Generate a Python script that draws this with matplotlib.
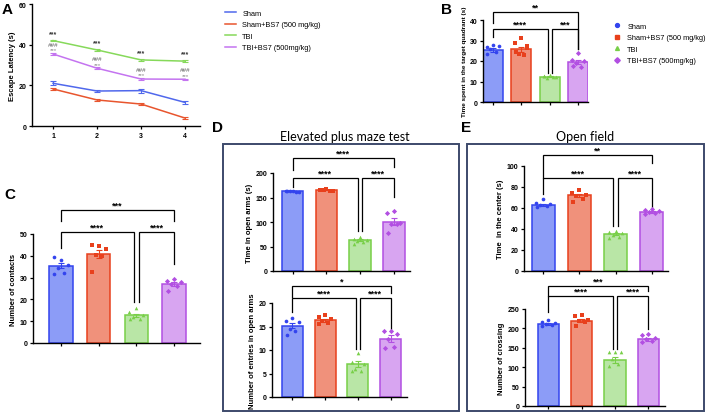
import matplotlib
matplotlib.use("Agg")
import matplotlib.pyplot as plt
import numpy as np
from matplotlib.patches import Rectangle
from matplotlib.lines import Line2D

plt.rcParams["font.family"] = ["Liberation Sans", "DejaVu Sans"]

W, H = 708, 414

groups = ["Sham", "Sham+BS7 (500 mg/kg)", "TBI", "TBI+BS7 (500mg/kg)"]
edge_cols = ["#3344ee", "#e8401c", "#78cf48", "#b24fe2"]
fill_cols = ["#8c9cf7", "#f0917b", "#b9e6a6", "#d8a5f1"]
line_cols = ["#5068ec", "#e8552e", "#86d95a", "#c474f0"]
markers = ["o", "s", "^", "D"]

# panel A: escape latency per day
days = [1, 2, 3, 4]
lat_sham = [21.0, 17.2, 17.4, 11.6]
lat_sham_err = [1.0, 0.6, 1.0, 0.7]
lat_shambs7 = [18.2, 12.8, 10.8, 3.9]
lat_shambs7_err = [0.4, 0.4, 0.4, 0.3]
lat_tbi = [42.0, 37.4, 32.5, 31.9]
lat_tbi_err = [0.4, 0.4, 0.4, 0.4]
lat_tbibs7 = [35.4, 28.4, 23.1, 23.0]
lat_tbibs7_err = [0.4, 0.4, 0.4, 0.3]

# panel B: time in target quadrant
b_pts = [[28, 26.8, 27.2, 25.8, 24.2, 23.2],
         [31, 28.8, 26.2, 23.2, 23.0, 24.5, 27.5],
         [13.2, 12.6, 12.1, 11.6, 12.0, 12.8],
         [24.0, 20.6, 20.2, 19.0, 17.2, 17.5]]
b_mean = [25.3, 25.8, 12.3, 19.5]
b_sem = [0.8, 1.2, 0.3, 1.0]

# panel C: number of contacts
c_pts = [[38.0, 39.5, 36.0, 34.2, 32.0, 31.5],
         [44.5, 45.0, 43.0, 40.2, 40.0, 32.5],
         [16.0, 14.0, 13.0, 12.0, 11.0, 11.2],
         [29.5, 28.5, 28.0, 27.0, 26.2, 24.0]]
c_mean = [35.4, 40.7, 12.7, 27.1]
c_sem = [1.2, 1.9, 0.8, 0.8]

# panel D: elevated plus maze
d1_pts = [[164, 163, 162, 163, 162, 164],
          [167, 165, 164, 166, 163, 165],
          [70, 65, 63, 62, 60, 55],
          [122, 118, 97, 96, 95, 78]]
d1_mean = [163, 165, 63, 101]
d1_sem = [0.5, 0.6, 2.0, 6.5]
d2_pts = [[16.8, 16.2, 16.0, 14.5, 14.0, 13.1],
          [17.4, 17.0, 16.7, 16.1, 15.7, 15.5],
          [9.4, 7.4, 7.1, 6.0, 5.5, 5.5],
          [14.1, 14.0, 13.5, 12.4, 10.6, 10.5]]
d2_mean = [15.2, 16.3, 7.0, 12.4]
d2_sem = [0.6, 0.3, 0.6, 0.7]

# panel E: open field
e1_pts = [[68.4, 64.6, 63.6, 62.7, 62.0, 61.0],
          [77.2, 74.0, 72.5, 71.5, 68.4, 65.8],
          [38.3, 37.3, 36.0, 34.2, 32.6, 31.6],
          [59.5, 58.2, 57.3, 56.3, 55.7, 54.1]]
e1_mean = [63.0, 72.0, 35.0, 56.0]
e1_sem = [1.1, 1.6, 1.0, 0.8]
e2_pts = [[222, 217, 214, 211, 209, 207],
          [235, 233, 222, 220, 216, 207],
          [140, 139, 138, 121, 108, 103],
          [185, 184, 176, 172, 168, 164]]
e2_mean = [211, 220, 119, 172]
e2_sem = [2.2, 4.5, 7.0, 3.5]

# horizontal spread of the dots, as a fraction of bar width
SPREAD = [0.0, -0.6, 0.6, -0.25, 0.3, -0.55, 0.55]


def px_axes(fig, l, t, r, b):
    return fig.add_axes([l / W, 1 - b / H, (r - l) / W, (b - t) / H])


def style_axes(ax, ylabel, yticks, lsize=5.5):
    for s in ["top", "right"]:
        ax.spines[s].set_visible(False)
    for s in ["left", "bottom"]:
        ax.spines[s].set_linewidth(1.0)
    ax.set_yticks(yticks)
    ax.tick_params(axis="both", length=2.5, width=0.9, pad=1.5, labelsize=5)
    for lab in ax.get_yticklabels():
        lab.set_fontweight("bold")
    ax.set_ylabel(ylabel, fontsize=lsize, fontweight="bold", labelpad=2)


def bracket(ax, x1, x2, y, y1, y2, text):
    ax.plot([x1, x1, x2, x2], [y1, y, y, y2], color="black", lw=0.9,
            clip_on=False, solid_joinstyle="miter")
    ax.annotate(text, ((x1 + x2) / 2, y), xytext=(0, 0.3), textcoords="offset points",
                ha="center", va="bottom", fontsize=6.5, fontweight="bold",
                annotation_clip=False)


def bar_panel(ax, pts, means, sems, ylim, yticks, ylabel, xlim, brackets,
              width=0.64, lsize=5.5):
    x = np.arange(4)
    ax.bar(x, means, width=width, color=fill_cols, edgecolor=edge_cols, linewidth=1.1, zorder=2)
    for i in range(4):
        n = len(pts[i])
        jit = np.array(SPREAD[:n]) * width * 0.5
        ax.errorbar(x[i], means[i], yerr=sems[i], color=edge_cols[i], capsize=2.2,
                    elinewidth=0.8, capthick=0.8, zorder=3)
        ax.scatter(x[i] + jit, pts[i], s=7, marker=markers[i], color=edge_cols[i],
                   linewidths=0, zorder=4, clip_on=False)
    ax.set_xlim(*xlim)
    ax.set_ylim(*ylim)
    ax.set_xticks(x)
    ax.set_xticklabels([])
    style_axes(ax, ylabel, yticks, lsize)
    g = 0.07
    for text, a, b, y, ya, yb in brackets:
        xa = a + (g if a == 2 else 0)
        xb = b - (g if b == 2 else 0)
        bracket(ax, xa, xb, y, ya, yb, text)


fig = plt.figure(figsize=(W / 100, H / 100), dpi=100)

# ---- A
axA = px_axes(fig, 32, 5, 200, 127)
series = [(lat_sham, lat_sham_err), (lat_shambs7, lat_shambs7_err),
          (lat_tbi, lat_tbi_err), (lat_tbibs7, lat_tbibs7_err)]
for (vals, err), col, name in zip(series, line_cols, groups):
    axA.errorbar(days, vals, yerr=err, color=col, lw=1.1, capsize=2, elinewidth=0.8,
                 capthick=0.8, label=name)
for d, v in zip(days, lat_tbi):
    axA.annotate("***", (d, v), xytext=(0, 2.5), textcoords="offset points",
                 ha="center", va="bottom", fontsize=5, fontweight="bold", color="#333333")
for d, v in zip(days, lat_tbibs7):
    axA.annotate("***", (d, v), xytext=(0, 1.2), textcoords="offset points",
                 ha="center", va="bottom", fontsize=4.5, color="#888888")
    axA.annotate("###", (d, v), xytext=(0, 5.2), textcoords="offset points",
                 ha="center", va="bottom", fontsize=4.5, color="#555555", style="italic")
axA.set_xlim(0.52, 4.34)
axA.set_ylim(0, 60)
axA.set_xticks(days)
style_axes(axA, "Escape Latency (s)", [0, 20, 40, 60])
for lab in axA.get_xticklabels():
    lab.set_fontweight("bold")
handles = [Line2D([], [], color=c, lw=1.1) for c in line_cols]
fig.legend(handles, groups, loc="upper left", bbox_to_anchor=(218 / W, 1 - 4 / H),
           frameon=False, fontsize=5.3, handlelength=1.6, labelspacing=0.6, handletextpad=0.8)

# ---- B
axB = px_axes(fig, 483, 21, 588, 103)
bar_panel(axB, b_pts, b_mean, b_sem, (0, 40), [0, 10, 20, 30, 40],
          "Time spent in the target quadrant (s)", (-0.35, 3.35),
          [("****", 0, 2, 35.8, 31.5, 14.0), ("***", 2, 3, 35.8, 14.0, 26.0),
           ("**", 0, 3, 43.9, 38.4, 26.0)], width=0.7, lsize=4.6)
hB = [Line2D([], [], ls="", marker=m, color=c, ms=2.8) for m, c in zip(markers, edge_cols)]
fig.legend(hB, groups, loc="upper left", bbox_to_anchor=(606 / W, 1 - 17 / H),
           frameon=False, fontsize=5.3, handlelength=1.2, labelspacing=0.6, handletextpad=0.8)

# ---- C
axC = px_axes(fig, 33, 235, 200, 344)
bar_panel(axC, c_pts, c_mean, c_sem, (0, 50), [0, 10, 20, 30, 40, 50],
          "Number of contacts", (-0.74, 3.69),
          [("****", 0, 2, 50.8, 43.5, 19.0), ("****", 2, 3, 50.8, 19.0, 36.3),
           ("***", 0, 3, 61.0, 56.0, 56.0)], width=0.62)

# ---- D
axD1 = px_axes(fig, 273, 174, 410, 272)
bar_panel(axD1, d1_pts, d1_mean, d1_sem, (0, 200), [0, 50, 100, 150, 200],
          "Time in open arms (s)", (-0.58, 3.48),
          [("****", 0, 2, 190, 172, 82), ("****", 2, 3, 190, 82, 152),
           ("****", 0, 3, 230, 206, 213)])
axD2 = px_axes(fig, 272, 304, 407, 398)
bar_panel(axD2, d2_pts, d2_mean, d2_sem, (0, 20), [0, 5, 10, 15, 20],
          "Number of entries in open arms", (-0.62, 3.5),
          [("****", 0, 2, 21.0, 18.1, 10.3), ("****", 2, 3, 21.0, 10.3, 14.4),
           ("*", 0, 3, 23.6, 21.2, 22.2)])

# ---- E
axE1 = px_axes(fig, 524, 167, 668, 272)
bar_panel(axE1, e1_pts, e1_mean, e1_sem, (0, 100), [0, 20, 40, 60, 80, 100],
          "Time  in the center (s)", (-0.53, 3.45),
          [("****", 0, 2, 88.3, 73.7, 43.0), ("****", 2, 3, 88.3, 43.0, 60.4),
           ("**", 0, 3, 110.4, 88.3, 103.0)])
axE2 = px_axes(fig, 525, 310, 665, 407)
bar_panel(axE2, e2_pts, e2_mean, e2_sem, (0, 250), [0, 50, 100, 150, 200, 250],
          "Number of crossing", (-0.7, 3.5),
          [("****", 0, 2, 284.5, 241, 147), ("****", 2, 3, 284.5, 147, 198),
           ("***", 0, 3, 310, 284.5, 297)])

# boxes and titles
for l, r in [(223, 459), (467, 704)]:
    fig.patches.append(Rectangle((l / W, 1 - 412 / H), (r - l) / W, (412 - 145) / H,
                                 transform=fig.transFigure, fill=False,
                                 edgecolor="#3d4a6b", lw=1.4))
fig.text(345 / W, 1 - 137 / H, "Elevated plus maze test", ha="center", va="center",
         fontsize=9, family=["Lato", "DejaVu Sans"])
fig.text(585 / W, 1 - 137 / H, "Open field", ha="center", va="center",
         fontsize=9, family=["Lato", "DejaVu Sans"])

for lab, x, y in [("A", 2, 10), ("B", 441, 10), ("C", 4, 195), ("D", 212, 128), ("E", 461, 128)]:
    fig.text(x / W, 1 - y / H, lab, fontsize=11, fontweight="bold", ha="left", va="center")

fig.savefig("out.png", dpi=100)
